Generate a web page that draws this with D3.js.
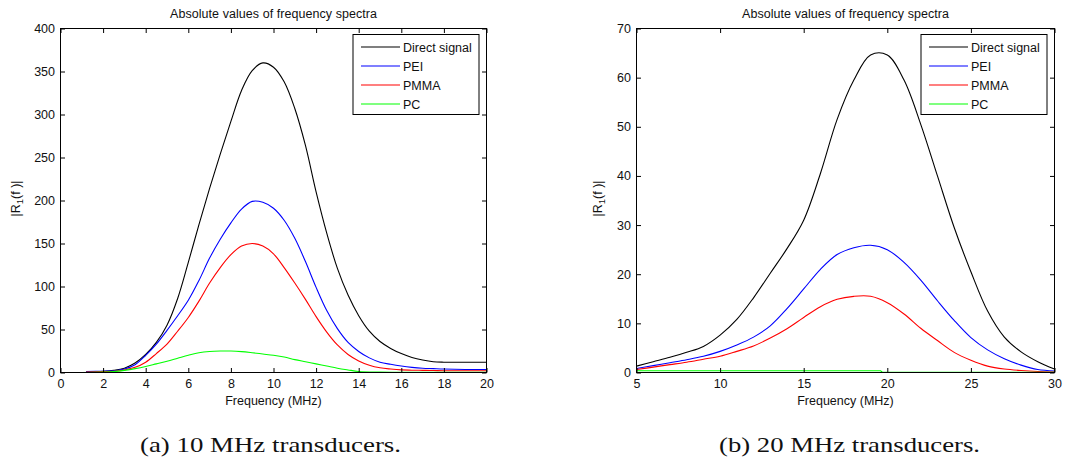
<!DOCTYPE html>
<html>
<head>
<meta charset="utf-8">
<script src="https://cdn.jsdelivr.net/npm/d3@7"></script>
<style>
  html, body { margin: 0; padding: 0; background: #fff; }
  svg { display: block; }
  text { font-family: "Liberation Sans", Arial, Helvetica, sans-serif; fill: #111; }
</style>
</head>
<body>
<svg id="chart" width="1088" height="466"></svg>
<script>
// ---------------- DATA ----------------
// (a) 10 MHz transducers
const freq10 = [1.2,2,2.5,3,3.5,4,4.5,5,5.5,6,6.5,7,7.5,8,8.5,9,9.5,10,10.5,11,11.5,12,12.5,13,13.5,14,14.5,15,15.5,16,16.5,17,17.5,18,19,20];
const direct10 = [1,1.5,2.5,5,11,21,35,55,86,128,172,214,254,292,328,351,360,355,338,307,264,210,162,121,90,66,48,36,28,22,17.5,14.5,12.5,12,12,12];
const pei10    = [1,1.5,2,4,9,20,33,49,66,84,107,133,155,174,190,199,198,191,177,156,129,99,72,51,35,24.5,17,12,9.5,7.5,6,5,4.5,4,3.5,3.5];
const pmma10   = [0.5,1,1.5,3,6,12,22,33,48,64,83,104,122,137,147,150,147,138,122,104,85,65,47,32,21,13.5,8.5,5.5,4,3,2.7,2.5,2.3,2,2,2];
const freqPC10 = [1,2,2.5,3,3.5,4,4.5,5,5.5,6,6.5,7,7.5,8,8.5,9,9.5,10,10.5,11,11.5,12,12.5,13,13.5,14,15,16,17,18,19,20];
const pc10     = [0,0.5,1,2.5,4.5,7,10,13,16.5,20,23,24.5,25,25,24.3,23,21.5,20,18,15,12.5,10,7.5,5,3,1.2,0.4,0.2,0.2,0.2,0.2,0.2];

// (b) 20 MHz transducers
const freq20   = [5,6,7,8,9,10,11,12,13,14,15,16,17,18,19,20,21,22,23,24,25,26,27,28,29,30];
const direct20 = [1.3,2.2,3.1,4.1,5.3,7.6,10.8,15.2,20.2,25.2,31,40.5,51.5,59.5,64.6,64.6,59.5,50.5,40,29.5,20.5,12.5,7.2,4.2,2.2,0.7];
const pei20    = [0.8,1.4,2,2.6,3.3,4.3,5.6,7.2,9.5,13,17,21,24,25.4,25.9,25,22.4,18.8,14.6,10.6,7.1,4.6,2.8,1.5,0.6,0.3];
const pmma20   = [0.6,1.1,1.6,2.1,2.7,3.3,4.3,5.4,7,8.9,11.2,13.4,14.9,15.5,15.5,14.2,11.9,9,6.5,4.1,2.5,1.3,0.7,0.4,0.2,0.1];
const freqPC20 = [5,10,15,19.6,19.7,25,30];
const pc20     = [0.35,0.35,0.35,0.35,0.05,0.05,0.05];

const seriesNames  = ["Direct signal","PEI","PMMA","PC"];
const seriesColors = ["#000000","#0000ff","#ff0000","#00ff00"];

const xTicks10 = [0,2,4,6,8,10,12,14,16,18,20];
const yTicks10 = [0,50,100,150,200,250,300,350,400];
const xTicks20 = [5,10,15,20,25,30];
const yTicks20 = [0,10,20,30,40,50,60,70];

const titleText = "Absolute values of frequency spectra";
const xLabel = "Frequency (MHz)";
const captions = ["(a) 10 MHz transducers.", "(b) 20 MHz transducers."];

// ---------------- DRAW ----------------
const svg = d3.select("#chart");

const panels = [
  { left: 60.5, right: 486.5, top: 28.5, bottom: 372.5, xd: [0,20], yd: [0,400],
    xt: xTicks10, yt: yTicks10, ylabX: 20, capX: 140,
    series: [[freq10,direct10],[freq10,pei10],[freq10,pmma10],[freqPC10,pc10]] },
  { left: 636.5, right: 1054.5, top: 28.5, bottom: 372.5, xd: [5,30], yd: [0,70],
    xt: xTicks20, yt: yTicks20, ylabX: 602, capX: 719,
    series: [[freq20,direct20],[freq20,pei20],[freq20,pmma20],[freqPC20,pc20]] }
];

const FS = "12.5px";

panels.forEach((p, pi) => {
  const g = svg.append("g");
  const x = d3.scaleLinear().domain(p.xd).range([p.left, p.right]);
  const y = d3.scaleLinear().domain(p.yd).range([p.bottom, p.top]);
  const tl = 4.5;

  const clipId = "clip" + pi;
  svg.append("defs").append("clipPath").attr("id", clipId)
    .append("rect").attr("x", p.left).attr("y", p.top - 1)
    .attr("width", p.right - p.left).attr("height", p.bottom - p.top + 1);

  // lines
  const smooth = d3.line().x(d => x(d[0])).y(d => y(d[1])).curve(d3.curveCatmullRom.alpha(0.5));
  const straight = d3.line().x(d => x(d[0])).y(d => y(d[1]));
  const lg = g.append("g").attr("clip-path", `url(#${clipId})`);
  p.series.forEach((s, i) => {
    const pts = s[0].map((f, k) => [f, s[1][k]]);
    const gen = (pi === 1 && i === 3) ? straight : smooth;
    lg.append("path").attr("d", gen(pts)).attr("fill", "none")
      .attr("stroke", seriesColors[i]).attr("stroke-width", 1.1);
  });

  // axes with inside ticks
  const xb = d3.axisBottom(x).tickValues(p.xt).tickSize(-tl).tickPadding(7).tickFormat(d3.format("d"));
  const xtop = d3.axisTop(x).tickValues(p.xt).tickSize(-tl).tickFormat("");
  const yl = d3.axisLeft(y).tickValues(p.yt).tickSize(-tl).tickPadding(5.5).tickFormat(d3.format("d"));
  const yr = d3.axisRight(y).tickValues(p.yt).tickSize(-tl).tickFormat("");

  function style(sel) {
    sel.select(".domain").remove();
    sel.selectAll(".tick line").attr("stroke", "#000");
    sel.selectAll("text").style("font-family", '"Liberation Sans", Arial, sans-serif')
      .style("font-size", FS).attr("fill", "#111");
  }
  g.append("g").attr("transform", `translate(0,${p.bottom})`).call(xb).call(style);
  g.append("g").attr("transform", `translate(0,${p.top})`).call(xtop).call(style);
  g.append("g").attr("transform", `translate(${p.left},0)`).call(yl).call(style);
  g.append("g").attr("transform", `translate(${p.right},0)`).call(yr).call(style);

  g.append("rect").attr("x", p.left).attr("y", p.top)
    .attr("width", p.right - p.left).attr("height", p.bottom - p.top)
    .attr("fill", "none").attr("stroke", "#000").attr("stroke-width", 1);

  const cx = (p.left + p.right) / 2;
  // title
  g.append("text").attr("x", cx).attr("y", 18).attr("text-anchor", "middle")
    .style("font-size", FS).attr("textLength", 207).attr("lengthAdjust", "spacing")
    .text(titleText);
  // x label
  g.append("text").attr("x", cx).attr("y", 405).attr("text-anchor", "middle")
    .style("font-size", FS).text(xLabel);
  // y label
  const yt = g.append("text").attr("transform", `translate(${p.ylabX},${(p.top + p.bottom) / 2 - 2}) rotate(-90)`)
    .attr("text-anchor", "middle").style("font-size", FS);
  yt.append("tspan").text("|R");
  yt.append("tspan").attr("baseline-shift", "-30%").style("font-size", "9.5px").text("1");
  yt.append("tspan").text("(f )|");

  // legend
  const lx = p.right - 133.5, ly = 34.5, lw = 126, lh = 80;
  const leg = g.append("g");
  leg.append("rect").attr("x", lx).attr("y", ly).attr("width", lw).attr("height", lh)
    .attr("fill", "#fff").attr("stroke", "#000").attr("stroke-width", 1);
  seriesNames.forEach((n, i) => {
    const ry = ly + 12.5 + i * 19;
    leg.append("line").attr("x1", lx + 8).attr("x2", lx + 47).attr("y1", ry).attr("y2", ry)
      .attr("stroke", seriesColors[i]).attr("stroke-width", 1.1);
    leg.append("text").attr("x", lx + 50).attr("y", ry + 4.5).style("font-size", FS).text(n);
  });

  // caption
  svg.append("text").attr("x", p.capX).attr("y", 452)
    .style("font-size", "22px").style("font-family", '"Liberation Serif", "DejaVu Serif", serif')
    .attr("textLength", 261).attr("lengthAdjust", "spacingAndGlyphs")
    .text(captions[pi]);
});
</script>
</body>
</html>
